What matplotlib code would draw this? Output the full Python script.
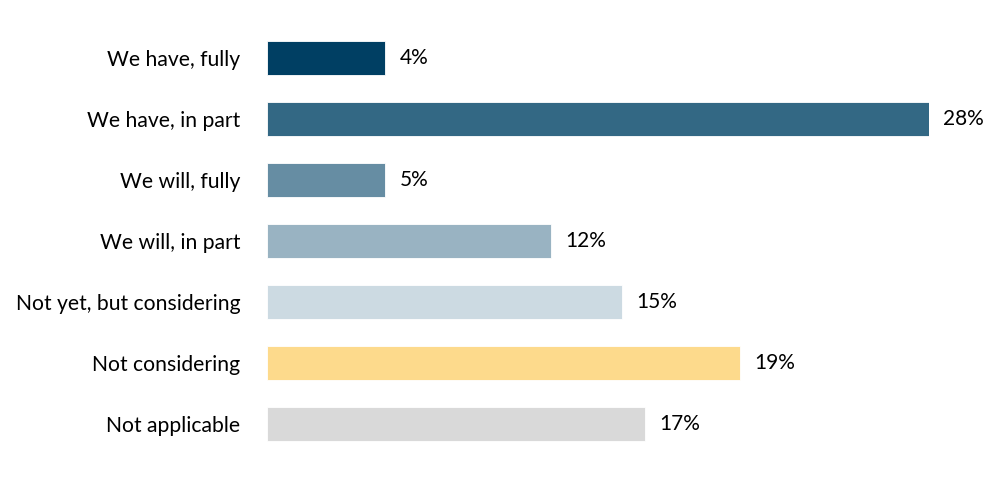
import matplotlib
matplotlib.use("Agg")
import matplotlib.pyplot as plt

categories = ["We have, fully", "We have, in part", "We will, fully", "We will, in part",
              "Not yet, but considering", "Not considering", "Not applicable"]
# bar lengths as drawn in the picture (labels as printed)
values = [5, 28, 5, 12, 15, 20, 16]
value_labels = ["4%", "28%", "5%", "12%", "15%", "19%", "17%"]
colors = ["#003F63", "#336884", "#668DA3", "#99B3C2", "#CCDAE2", "#FDDA8C", "#D9D9D9"]

plt.rcParams['font.family'] = ['Lato', 'DejaVu Sans']

fig = plt.figure(figsize=(10.05, 4.83), dpi=100)
ax = fig.add_axes([267 / 1005, 1 - 454.5 / 483, (929 - 267) / 1005, 427 / 483])

y = list(range(len(categories)))
ax.barh(y, values, height=0.56, color=colors, edgecolor="white", linewidth=0.6)

for yi, v, lab in zip(y, values, value_labels):
    ax.text(v + 0.6, yi, lab, va="center", ha="left", fontsize=15, color="black")

ax.set_xlim(0, 28)
ax.set_ylim(len(categories) - 0.5, -0.5)
ax.set_yticks(y)
ax.set_yticklabels(categories, fontsize=15.2)
ax.tick_params(axis="y", length=0, pad=19)
ax.set_xticks([])
for s in ax.spines.values():
    s.set_visible(False)

fig.savefig("out.png", dpi=100)
